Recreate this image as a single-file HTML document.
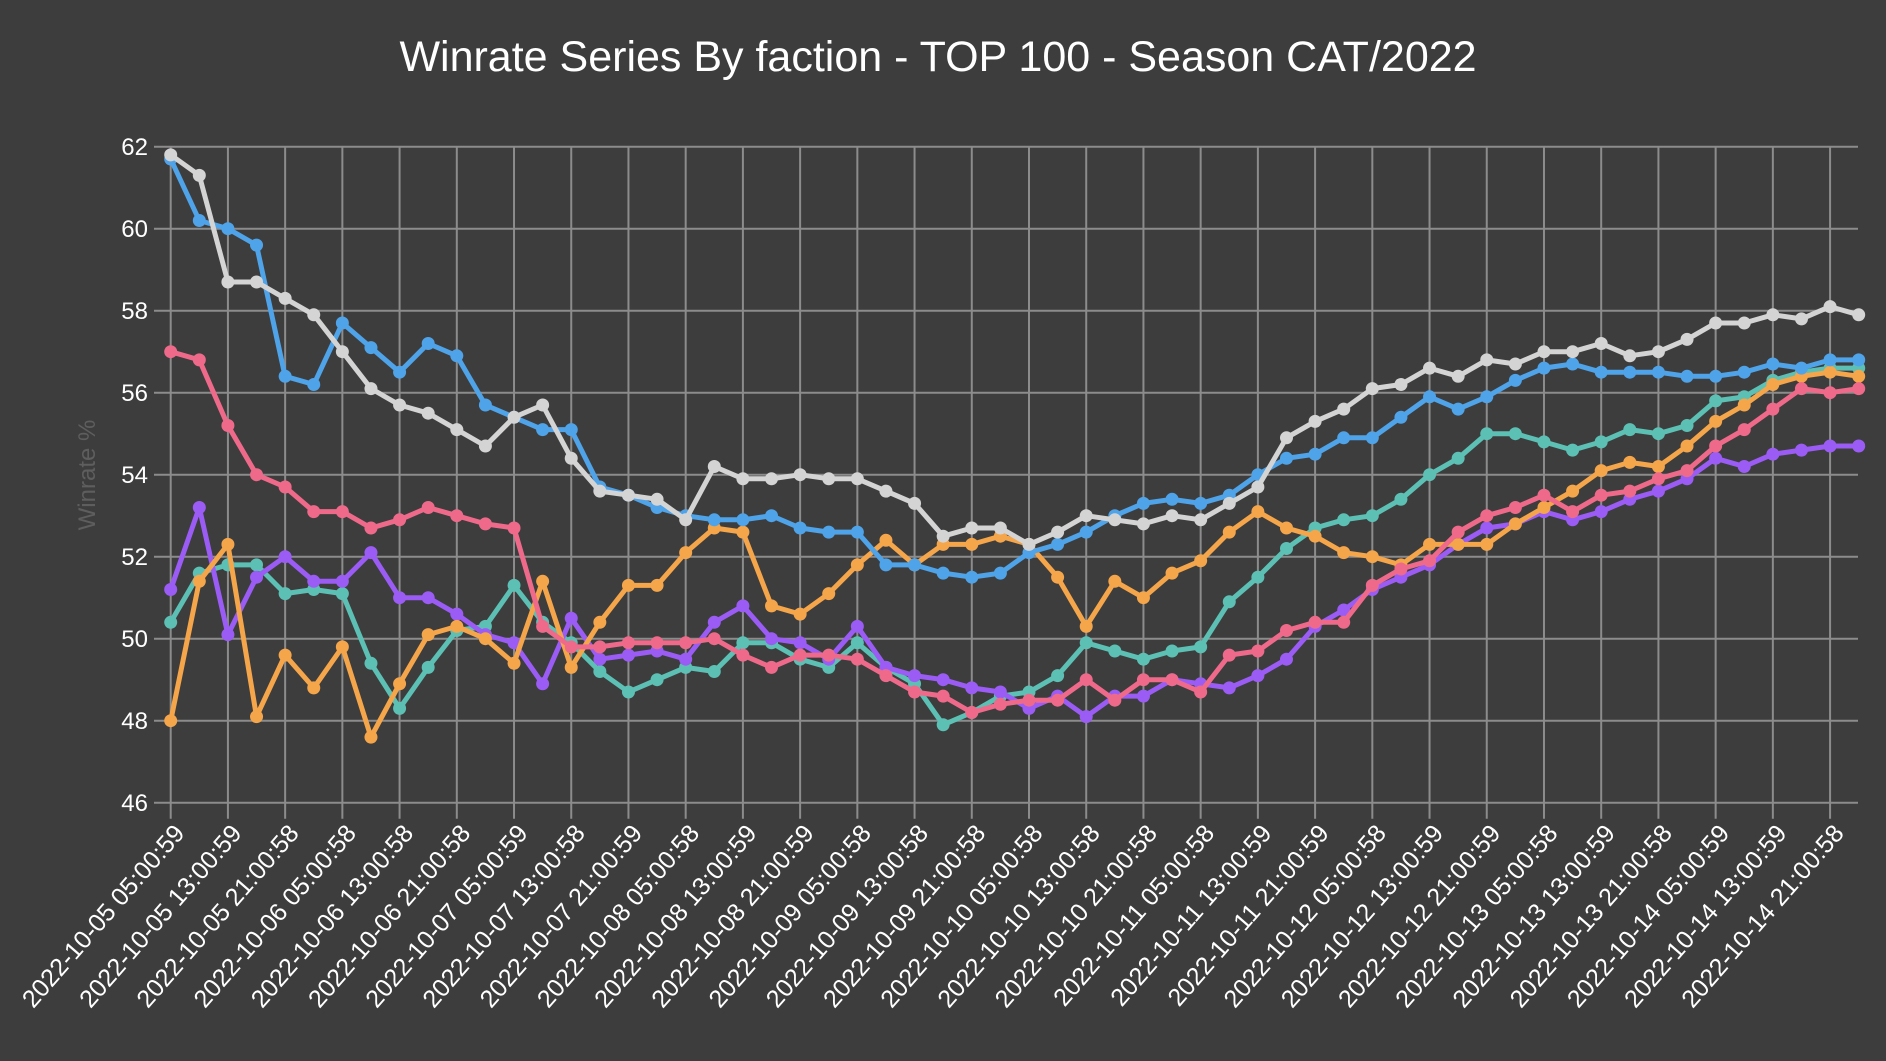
<!DOCTYPE html>
<html><head><meta charset="utf-8"><style>
html,body{margin:0;padding:0;background:#3d3d3d;}
svg{display:block;font-family:"Liberation Sans",sans-serif;}
</style></head><body>
<svg id="c" width="1886" height="1061" viewBox="0 0 1886 1061">
<rect width="1886" height="1061" fill="#3d3d3d"/>
<text x="938" y="71" fill="#fff" font-size="43" text-anchor="middle">Winrate Series By faction - TOP 100 - Season CAT/2022</text>
<text transform="translate(95,475) rotate(-90)" fill="#5e5e5e" font-size="24" text-anchor="middle">Winrate %</text>
<g fill="#fff" font-size="24" text-anchor="end">
<text x="148" y="155">62</text><text x="148" y="237">60</text><text x="148" y="319">58</text><text x="148" y="401">56</text>
<text x="148" y="483">54</text><text x="148" y="565">52</text><text x="148" y="647">50</text><text x="148" y="729">48</text><text x="148" y="811">46</text>
</g>
<g id="grid" stroke="#8c8c8c" stroke-width="2"></g>
<g id="xl" fill="#fff" font-size="25" text-anchor="end">
<text>2022-10-05 05:00:59</text><text>2022-10-05 13:00:59</text><text>2022-10-05 21:00:58</text>
<text>2022-10-06 05:00:58</text><text>2022-10-06 13:00:58</text><text>2022-10-06 21:00:58</text>
<text>2022-10-07 05:00:59</text><text>2022-10-07 13:00:58</text><text>2022-10-07 21:00:59</text>
<text>2022-10-08 05:00:58</text><text>2022-10-08 13:00:59</text><text>2022-10-08 21:00:59</text>
<text>2022-10-09 05:00:58</text><text>2022-10-09 13:00:58</text><text>2022-10-09 21:00:58</text>
<text>2022-10-10 05:00:58</text><text>2022-10-10 13:00:58</text><text>2022-10-10 21:00:58</text>
<text>2022-10-11 05:00:58</text><text>2022-10-11 13:00:59</text><text>2022-10-11 21:00:59</text>
<text>2022-10-12 05:00:58</text><text>2022-10-12 13:00:59</text><text>2022-10-12 21:00:59</text>
<text>2022-10-13 05:00:58</text><text>2022-10-13 13:00:59</text><text>2022-10-13 21:00:58</text>
<text>2022-10-14 05:00:59</text><text>2022-10-14 13:00:59</text><text>2022-10-14 21:00:58</text>
</g>
<g id="series"></g>
</svg>
<script>
var X0=170.7,DX=28.61,Y62=146.7,PU=41;
function y(v){return Y62+(62-v)*PU;}
var g=document.getElementById('grid'),ns="http://www.w3.org/2000/svg";
function ln(x1,y1,x2,y2){var l=document.createElementNS(ns,'line');l.setAttribute('x1',x1);l.setAttribute('y1',y1);l.setAttribute('x2',x2);l.setAttribute('y2',y2);g.appendChild(l);}
for(var v=46;v<=62;v+=2)ln(154,y(v),1858,y(v));
for(var i=0;i<30;i++){var x=X0+i*2*DX;ln(x,Y62,x,y(46)+16);}
var tl=document.getElementById('xl').children;
for(var i=0;i<tl.length;i++){var x=X0+i*2*DX+15,yy=834;tl[i].setAttribute('transform','translate('+x+','+yy+') rotate(-49)');}
var S=[
["#5cc0b5",[50.4,51.6,51.8,51.8,51.1,51.2,51.1,49.4,48.3,49.3,50.2,50.3,51.3,50.4,49.9,49.2,48.7,49.0,49.3,49.2,49.9,49.9,49.5,49.3,49.9,49.3,48.9,47.9,48.2,48.6,48.7,49.1,49.9,49.7,49.5,49.7,49.8,50.9,51.5,52.2,52.7,52.9,53.0,53.4,54.0,54.4,55.0,55.0,54.8,54.6,54.8,55.1,55.0,55.2,55.8,55.9,56.3,56.5,56.6,56.6]],
["#9b5cf5",[51.2,53.2,50.1,51.5,52.0,51.4,51.4,52.1,51.0,51.0,50.6,50.1,49.9,48.9,50.5,49.5,49.6,49.7,49.5,50.4,50.8,50.0,49.9,49.5,50.3,49.3,49.1,49.0,48.8,48.7,48.3,48.6,48.1,48.6,48.6,49.0,48.9,48.8,49.1,49.5,50.3,50.7,51.2,51.5,51.8,52.3,52.7,52.8,53.1,52.9,53.1,53.4,53.6,53.9,54.4,54.2,54.5,54.6,54.7,54.7]],
["#f5a54a",[48.0,51.4,52.3,48.1,49.6,48.8,49.8,47.6,48.9,50.1,50.3,50.0,49.4,51.4,49.3,50.4,51.3,51.3,52.1,52.7,52.6,50.8,50.6,51.1,51.8,52.4,51.8,52.3,52.3,52.5,52.3,51.5,50.3,51.4,51.0,51.6,51.9,52.6,53.1,52.7,52.5,52.1,52.0,51.8,52.3,52.3,52.3,52.8,53.2,53.6,54.1,54.3,54.2,54.7,55.3,55.7,56.2,56.4,56.5,56.4]],
["#ef6a8a",[57.0,56.8,55.2,54.0,53.7,53.1,53.1,52.7,52.9,53.2,53.0,52.8,52.7,50.3,49.8,49.8,49.9,49.9,49.9,50.0,49.6,49.3,49.6,49.6,49.5,49.1,48.7,48.6,48.2,48.4,48.5,48.5,49.0,48.5,49.0,49.0,48.7,49.6,49.7,50.2,50.4,50.4,51.3,51.7,51.9,52.6,53.0,53.2,53.5,53.1,53.5,53.6,53.9,54.1,54.7,55.1,55.6,56.1,56.0,56.1]],
["#4fa3e8",[61.7,60.2,60.0,59.6,56.4,56.2,57.7,57.1,56.5,57.2,56.9,55.7,55.4,55.1,55.1,53.7,53.5,53.2,53.0,52.9,52.9,53.0,52.7,52.6,52.6,51.8,51.8,51.6,51.5,51.6,52.1,52.3,52.6,53.0,53.3,53.4,53.3,53.5,54.0,54.4,54.5,54.9,54.9,55.4,55.9,55.6,55.9,56.3,56.6,56.7,56.5,56.5,56.5,56.4,56.4,56.5,56.7,56.6,56.8,56.8]],
["#d4d4d4",[61.8,61.3,58.7,58.7,58.3,57.9,57.0,56.1,55.7,55.5,55.1,54.7,55.4,55.7,54.4,53.6,53.5,53.4,52.9,54.2,53.9,53.9,54.0,53.9,53.9,53.6,53.3,52.5,52.7,52.7,52.3,52.6,53.0,52.9,52.8,53.0,52.9,53.3,53.7,54.9,55.3,55.6,56.1,56.2,56.6,56.4,56.8,56.7,57.0,57.0,57.2,56.9,57.0,57.3,57.7,57.7,57.9,57.8,58.1,57.9]]
];
var sg=document.getElementById('series');
S.forEach(function(s){
 var pts=s[1].map(function(v,i){return (X0+i*DX).toFixed(1)+','+y(v).toFixed(1);});
 var p=document.createElementNS(ns,'polyline');p.setAttribute('points',pts.join(' '));
 p.setAttribute('fill','none');p.setAttribute('stroke',s[0]);p.setAttribute('stroke-width','5');p.setAttribute('stroke-linejoin','round');sg.appendChild(p);
 s[1].forEach(function(v,i){var c=document.createElementNS(ns,'circle');c.setAttribute('cx',X0+i*DX);c.setAttribute('cy',y(v));c.setAttribute('r','6.5');c.setAttribute('fill',s[0]);sg.appendChild(c);});
});
</script>
</body></html>
